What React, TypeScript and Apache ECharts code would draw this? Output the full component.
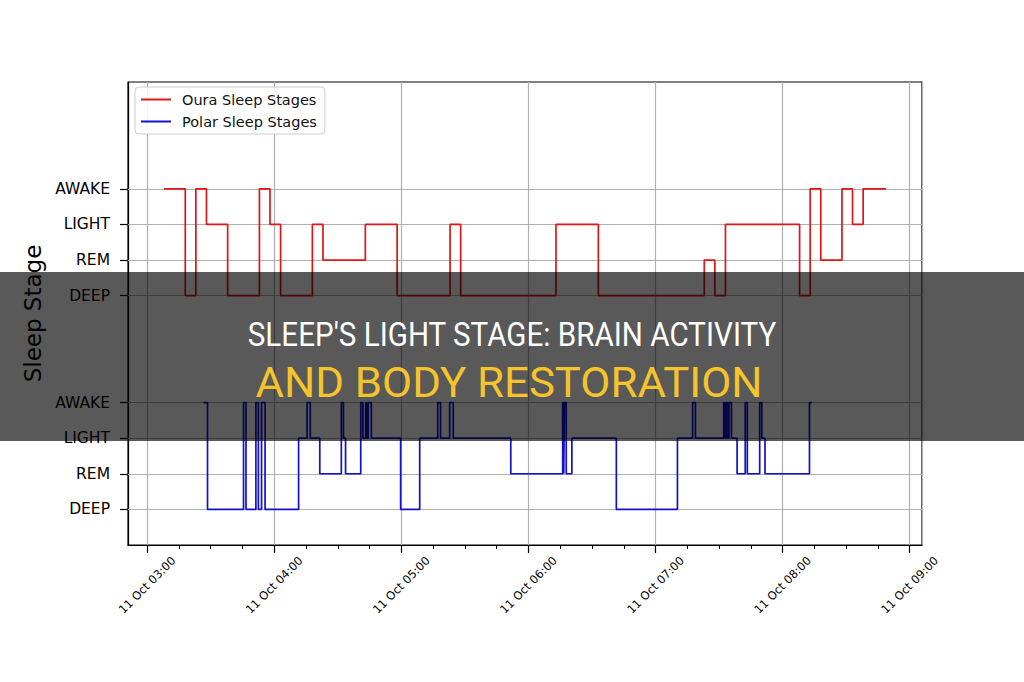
import React, { useEffect, useRef } from 'react';
import * as echarts from 'echarts';

// ---- data ----
const DAY = { year: 2023, month: 9, date: 11 }; // 11 Oct
const STAGES = ['DEEP', 'REM', 'LIGHT', 'AWAKE'];
const OURA_OFFSET = 6;
const STAGE_LEVELS = [0, 1, 2, 3, 6, 7, 8, 9];

const OURA_TIMES = ['03:08', '03:18', '03:23', '03:28', '03:38', '03:53', '03:58', '04:03', '04:18', '04:23', '04:43', '04:58', '05:23', '05:28', '06:13', '06:33', '07:23', '07:28', '07:33', '08:08', '08:13', '08:18', '08:28', '08:33', '08:38', '08:48:45'];
const OURA_STAGES = ['AWAKE', 'DEEP', 'AWAKE', 'LIGHT', 'DEEP', 'AWAKE', 'LIGHT', 'DEEP', 'LIGHT', 'REM', 'LIGHT', 'DEEP', 'LIGHT', 'DEEP', 'LIGHT', 'DEEP', 'REM', 'DEEP', 'LIGHT', 'DEEP', 'AWAKE', 'REM', 'AWAKE', 'LIGHT', 'AWAKE', 'AWAKE'];

const POLAR_TIMES = ['03:26:30', '03:28:30', '03:45:30', '03:46:40', '03:51:20', '03:52:30', '03:54:00', '03:55:40', '04:11:30', '04:15:30', '04:17:00', '04:21:30', '04:31:40', '04:32:40', '04:33:40', '04:40:50', '04:41:50', '04:43:10', '04:43:40', '04:44:20', '04:45:50', '04:59:40', '05:08:40', '05:17:10', '05:18:30', '05:22:50', '05:24:30', '05:51:40', '06:16:10', '06:16:40', '06:17:00', '06:17:50', '06:20:30', '06:41:30', '07:10:20', '07:17:30', '07:18:50', '07:32:10', '07:32:50', '07:33:20', '07:34:10', '07:34:40', '07:35:50', '07:38:30', '07:42:20', '07:43:20', '07:49:10', '07:50:10', '07:51:40', '08:12:40', '08:13:50'];
const POLAR_STAGES = ['AWAKE', 'DEEP', 'AWAKE', 'DEEP', 'AWAKE', 'DEEP', 'AWAKE', 'DEEP', 'LIGHT', 'AWAKE', 'LIGHT', 'REM', 'AWAKE', 'LIGHT', 'REM', 'AWAKE', 'LIGHT', 'AWAKE', 'LIGHT', 'AWAKE', 'LIGHT', 'DEEP', 'LIGHT', 'AWAKE', 'LIGHT', 'AWAKE', 'LIGHT', 'REM', 'AWAKE', 'REM', 'AWAKE', 'REM', 'LIGHT', 'DEEP', 'LIGHT', 'AWAKE', 'LIGHT', 'AWAKE', 'LIGHT', 'AWAKE', 'LIGHT', 'AWAKE', 'LIGHT', 'REM', 'AWAKE', 'REM', 'AWAKE', 'LIGHT', 'REM', 'AWAKE', 'AWAKE'];

const TITLE_LINE_1 = "SLEEP'S LIGHT STAGE: BRAIN ACTIVITY";
const TITLE_LINE_2 = 'AND BODY RESTORATION';

const FONT = 'DejaVu Sans';
const HOUR = 3600 * 1000;
const QUARTER = 15 * 60 * 1000;

function toTs(t: string): number {
  const [h, m, s] = t.split(':').map(Number);
  return new Date(DAY.year, DAY.month, DAY.date, h, m, s || 0).getTime();
}

const pad = (n: number) => (n < 10 ? '0' + n : '' + n);

function measure(text: string, font: string): number {
  const c = document.createElement('canvas');
  const ctx = c.getContext('2d')!;
  ctx.font = font;
  return ctx.measureText(text).width;
}

export default function App() {
  const ref = useRef<HTMLDivElement>(null);

  useEffect(() => {
    const chart = echarts.init(ref.current!, null, { renderer: 'svg' });

    const ouraData = OURA_TIMES.map((t, i) => [toTs(t), STAGES.indexOf(OURA_STAGES[i]) + OURA_OFFSET]);
    const polarData = POLAR_TIMES.map((t, i) => [toTs(t), STAGES.indexOf(POLAR_STAGES[i])]);

    // matplotlib-like 5% x margins around the data extent
    const allTs = ouraData.map((d) => d[0]).concat(polarData.map((d) => d[0]));
    const tMin = Math.min(...allTs);
    const tMax = Math.max(...allTs);
    const marg = (tMax - tMin) * 0.05;
    const xMin = tMin - marg;
    const xMax = tMax + marg;

    // hourly major ticks and quarter-hour minor ticks
    const base = toTs('00:00');
    const hourTicks: number[] = [];
    const quarterTicks: number[] = [];
    for (let t = base; t <= xMax; t += QUARTER) {
      if (t < xMin) continue;
      if ((t - base) % HOUR === 0) hourTicks.push(t);
      else quarterTicks.push(t);
    }

    const f1 = '400 34px Roboto';
    const f2 = '400 42px Roboto';
    const s1 = 529 / measure(TITLE_LINE_1, f1);
    const s2 = 507 / measure(TITLE_LINE_2, f2);

    const tickAxis = (values: number[], length: number, width: number) => ({
      type: 'value',
      min: xMin,
      max: xMax,
      gridIndex: 0,
      position: 'bottom',
      axisLine: { show: false, onZero: false },
      axisTick: { show: true, length, customValues: values, lineStyle: { color: '#000', width } },
      splitLine: { show: false },
      axisLabel: { show: false },
    });

    const option: any = {
      animation: false,
      backgroundColor: '#fff',
      textStyle: { fontFamily: FONT },
      grid: {
        left: 128,
        top: 82,
        width: 794,
        height: 463,
        show: true,
        borderColor: '#000',
        borderWidth: 1.2,
        backgroundColor: 'transparent',
      },
      legend: {
        data: ['Oura Sleep Stages', 'Polar Sleep Stages'],
        orient: 'vertical',
        left: 135,
        top: 87,
        icon: 'rect',
        itemWidth: 30,
        itemHeight: 2,
        itemGap: 7,
        padding: [5, 8, 5, 6],
        backgroundColor: 'rgba(255,255,255,0.85)',
        borderColor: '#cccccc',
        borderWidth: 1,
        borderRadius: 4,
        textStyle: { fontSize: 14.5, color: '#111', fontFamily: FONT, padding: [0, 0, 0, 6] },
      },
      xAxis: [
        {
          type: 'time',
          min: xMin,
          max: xMax,
          gridIndex: 0,
          position: 'bottom',
          minInterval: HOUR,
          maxInterval: HOUR,
          axisLine: { show: true, onZero: false, lineStyle: { color: '#000', width: 1.2 } },
          axisTick: { show: false },
          splitLine: { show: true, lineStyle: { color: '#b0b0b0', width: 1.2 } },
          axisLabel: {
            formatter: (v: number) => {
              const d = new Date(v);
              if (d.getMinutes() !== 0 || d.getSeconds() !== 0) return '';
              return `11 Oct ${pad(d.getHours())}:${pad(d.getMinutes())}`;
            },
            rotate: 45,
            align: 'center',
            verticalAlign: 'middle',
            margin: 40,
            fontSize: 11.5,
            color: '#000',
            fontFamily: FONT,
            hideOverlap: false,
          },
        },
        tickAxis(hourTicks, 8, 1.2),
        tickAxis(quarterTicks, 4, 1),
      ],
      yAxis: {
        type: 'value',
        min: -1,
        max: 12,
        interval: 1,
        name: 'Sleep Stage',
        nameLocation: 'middle',
        nameRotate: 90,
        nameGap: 84,
        nameTextStyle: { fontSize: 23, color: '#000', fontFamily: FONT },
        axisLine: { show: true, onZero: false, lineStyle: { color: '#000', width: 1.2 } },
        axisTick: { show: true, length: 8, customValues: STAGE_LEVELS, lineStyle: { color: '#000', width: 1.2 } },
        splitLine: { show: false },
        axisLabel: {
          customValues: STAGE_LEVELS,
          formatter: (v: number) => STAGES[v >= OURA_OFFSET ? v - OURA_OFFSET : v] || '',
          fontSize: 15.5,
          color: '#000',
          fontFamily: FONT,
          margin: 18,
        },
      },
      series: [
        {
          name: 'grid',
          type: 'line',
          data: [],
          silent: true,
          z: 1,
          markLine: {
            silent: true,
            z: 1,
            symbol: ['none', 'none'],
            label: { show: false },
            emphasis: { disabled: true },
            lineStyle: { color: '#b0b0b0', width: 1.2, type: 'solid' },
            data: STAGE_LEVELS.map((v) => ({ yAxis: v })),
          },
        },
        {
          name: 'Oura Sleep Stages',
          type: 'line',
          step: 'end',
          symbol: 'none',
          z: 3,
          lineStyle: { color: '#e01515', width: 1.7 },
          itemStyle: { color: '#e01515' },
          data: ouraData,
        },
        {
          name: 'Polar Sleep Stages',
          type: 'line',
          step: 'end',
          symbol: 'none',
          z: 3,
          lineStyle: { color: '#1212cc', width: 1.7 },
          itemStyle: { color: '#1212cc' },
          data: polarData,
        },
      ],
      graphic: [
        {
          type: 'rect',
          z: 100,
          silent: true,
          shape: { x: 0, y: 272, width: 1024, height: 169 },
          style: { fill: 'rgba(0,0,0,0.65)' },
        },
        {
          type: 'text',
          z: 101,
          silent: true,
          x: 512,
          y: 334,
          scaleX: s1,
          style: {
            text: TITLE_LINE_1,
            font: f1,
            fill: '#ffffff',
            align: 'center',
            verticalAlign: 'middle',
            textAlign: 'center',
            textVerticalAlign: 'middle',
          },
        },
        {
          type: 'text',
          z: 101,
          silent: true,
          x: 509,
          y: 382,
          scaleX: s2,
          style: {
            text: TITLE_LINE_2,
            font: f2,
            fill: '#f5c32c',
            align: 'center',
            verticalAlign: 'middle',
            textAlign: 'center',
            textVerticalAlign: 'middle',
          },
        },
      ],
    };

    chart.setOption(option);
    return () => chart.dispose();
  }, []);

  return (
    <div
      ref={ref}
      style={{ position: 'absolute', left: 0, top: 0, width: 1024, height: 682, background: '#fff' }}
    />
  );
}
